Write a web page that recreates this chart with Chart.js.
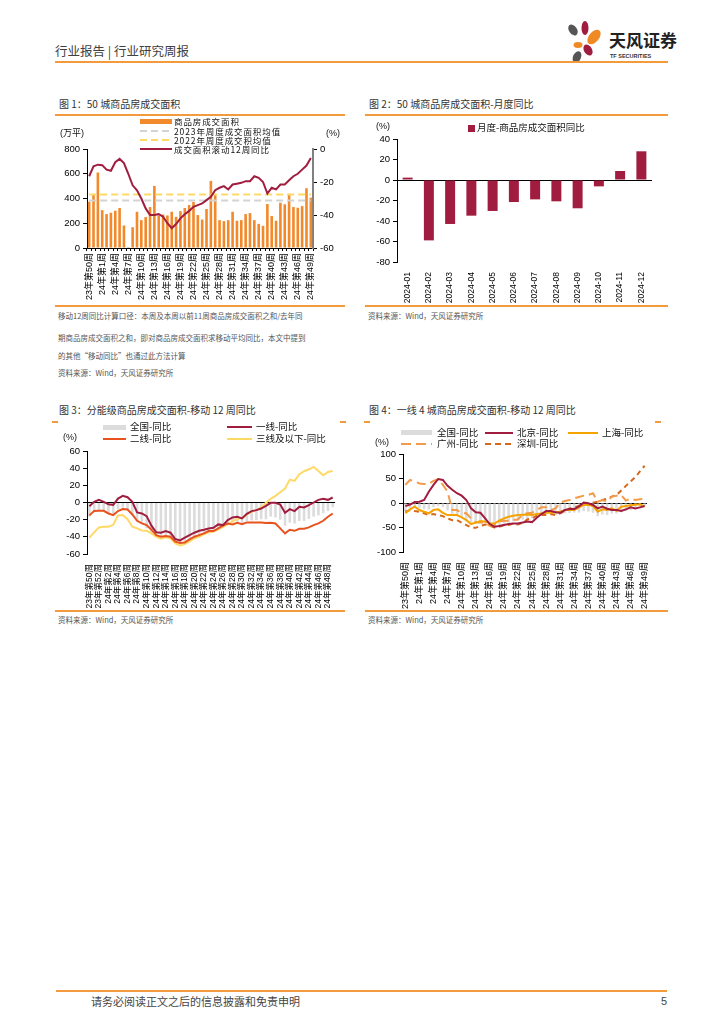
<!DOCTYPE html>
<html>
<head>
<meta charset="utf-8">
<script src="https://cdn.jsdelivr.net/npm/chart.js@4.4.1/dist/chart.umd.min.js"></script>
<style>
body { margin: 0; background: #fff; font-family: 'Noto Sans CJK SC', sans-serif; }
#page { position: relative; width: 724px; height: 1024px; overflow: hidden; background: #fff; }
.t { position: absolute; white-space: nowrap; line-height: 1; }
.hr { position: absolute; height: 1.5px; background: #F29A3C; }
.box { position: absolute; }
.title { font-size: 10px; color: #333; }
.note { font-size: 7.5px; color: #555; }
.lg { font-size: 9.5px; color: #111; }
.lg1 { font-size: 8.5px; color: #111; letter-spacing: 0.9px; }
.unit { font-size: 9px; color: #111; font-family: 'Liberation Sans', 'Noto Sans CJK SC', sans-serif; }
.sym { position: absolute; }
</style>
</head>
<body>
<div id="page">

<!-- header -->
<div class="t" style="left:55px;top:45px;font-size:12.5px;color:#404040;">行业报告 | 行业研究周报</div>
<svg style="position:absolute;left:560px;top:18px;" width="50" height="48">
  <ellipse cx="13" cy="12" rx="4" ry="6" transform="rotate(-35 13 12)" fill="#555"/>
  <ellipse cx="25" cy="10" rx="3.5" ry="7" fill="#A11D3F"/>
  <ellipse cx="34" cy="19" rx="5" ry="8.5" transform="rotate(40 34 19)" fill="#F08A24"/>
  <ellipse cx="18" cy="27" rx="4.5" ry="3" fill="#F08A24"/>
  <ellipse cx="28" cy="32" rx="4" ry="6" transform="rotate(-30 28 32)" fill="#A11D3F"/>
  <ellipse cx="17" cy="39" rx="4" ry="6" transform="rotate(25 17 39)" fill="#555"/>
</svg>
<div class="t" style="left:609px;top:31px;font-size:17px;font-weight:bold;color:#222;">天风证券</div>
<div class="t" style="left:610px;top:54px;font-size:5.5px;font-weight:bold;color:#333;font-family:'Liberation Sans',sans-serif;">TF SECURITIES</div>
<div class="hr" style="left:55px;top:61px;width:613px;"></div>

<!-- chart 1 -->
<div class="t title" style="left:59px;top:99px;">图 1：50 城商品房成交面积</div>
<div class="hr" style="left:55px;top:114px;width:290px;"></div>
<div class="box" style="left:55px;top:115px;width:290px;height:190px;"><canvas id="c1"></canvas></div>
<div class="sym" style="left:140px;top:119px;width:32px;height:5px;background:#F28A2B;"></div>
<div class="t lg1" style="left:174px;top:117px;">商品房成交面积</div>
<div class="sym" style="left:140px;top:129.5px;width:32px;height:2px;background:repeating-linear-gradient(90deg,#D3D3D3 0 7px,transparent 7px 11px);"></div>
<div class="t lg1" style="left:174px;top:126.5px;">2023年周度成交面积均值</div>
<div class="sym" style="left:140px;top:138.5px;width:32px;height:2px;background:repeating-linear-gradient(90deg,#FFD966 0 7px,transparent 7px 11px);"></div>
<div class="t lg1" style="left:174px;top:135.5px;">2022年周度成交积均值</div>
<div class="sym" style="left:140px;top:148px;width:32px;height:2px;background:#A11D3F;"></div>
<div class="t lg1" style="left:174px;top:145px;">成交面积滚动12周同比</div>
<div class="t unit" style="left:60px;top:129px;">(万平)</div>
<div class="t unit" style="left:326px;top:129px;">(%)</div>
<div class="hr" style="left:55px;top:305px;width:290px;"></div>
<div class="t note" style="left:58px;top:312px;">移动12周同比计算口径：本周及本周以前11周商品房成交面积之和/去年同</div>
<div class="t note" style="left:58px;top:334px;">期商品房成交面积之和，即对商品房成交面积求移动平均同比，本文中提到</div>
<div class="t note" style="left:58px;top:352px;">的其他“移动同比”也通过此方法计算</div>
<div class="t note" style="left:58px;top:369px;">资料来源：Wind，天风证券研究所</div>

<!-- chart 2 -->
<div class="t title" style="left:369px;top:99px;">图 2：50 城商品房成交面积-月度同比</div>
<div class="hr" style="left:365px;top:114px;width:303px;"></div>
<div class="box" style="left:365px;top:115px;width:303px;height:190px;"><canvas id="c2"></canvas></div>
<div class="t unit" style="left:376px;top:122px;">(%)</div>
<div class="sym" style="left:468px;top:125px;width:6.5px;height:6.5px;background:#A11D3F;"></div>
<div class="t lg" style="left:477px;top:123px;">月度-商品房成交面积同比</div>
<div class="hr" style="left:365px;top:305px;width:303px;"></div>
<div class="t note" style="left:368px;top:312px;">资料来源：Wind，天风证券研究所</div>

<!-- chart 3 -->
<div class="t title" style="left:59px;top:405px;">图 3：分能级商品房成交面积-移动 12 周同比</div>
<div class="hr" style="left:52px;top:421px;width:6px;"></div>
<div class="hr" style="left:340px;top:421px;width:6px;"></div>
<div class="box" style="left:55px;top:422px;width:290px;height:188px;"><canvas id="c3"></canvas></div>
<div class="t unit" style="left:63px;top:433px;">(%)</div>
<div class="sym" style="left:103px;top:424.5px;width:23px;height:5px;background:#DCDCDC;"></div>
<div class="t lg" style="left:130px;top:422px;">全国-同比</div>
<div class="sym" style="left:103px;top:438px;width:23px;height:2px;background:#E8521E;"></div>
<div class="t lg" style="left:130px;top:434px;">二线-同比</div>
<div class="sym" style="left:227px;top:426px;width:25px;height:2px;background:#A11D3F;"></div>
<div class="t lg" style="left:256px;top:422px;">一线-同比</div>
<div class="sym" style="left:227px;top:438px;width:25px;height:2px;background:#FFD966;"></div>
<div class="t lg" style="left:256px;top:434px;">三线及以下-同比</div>
<div class="hr" style="left:55px;top:610px;width:290px;"></div>
<div class="t note" style="left:58px;top:616px;">资料来源：Wind，天风证券研究所</div>

<!-- chart 4 -->
<div class="t title" style="left:369px;top:405px;">图 4：一线 4 城商品房成交面积-移动 12 周同比</div>
<div class="hr" style="left:364px;top:421px;width:6px;"></div>
<div class="hr" style="left:655px;top:421px;width:6px;"></div>
<div class="box" style="left:365px;top:422px;width:303px;height:188px;"><canvas id="c4"></canvas></div>
<div class="t unit" style="left:375px;top:438px;">(%)</div>
<div class="sym" style="left:401px;top:430px;width:31px;height:5px;background:#DCDCDC;"></div>
<div class="t lg" style="left:437px;top:428px;">全国-同比</div>
<div class="sym" style="left:485px;top:432px;width:28px;height:2px;background:#A11D3F;"></div>
<div class="t lg" style="left:517px;top:428px;">北京-同比</div>
<div class="sym" style="left:568px;top:432px;width:30px;height:2px;background:#F5A300;"></div>
<div class="t lg" style="left:602px;top:428px;">上海-同比</div>
<div class="sym" style="left:401px;top:443px;width:31px;height:2px;background:repeating-linear-gradient(90deg,#F39B48 0 10px,transparent 10px 15px);"></div>
<div class="t lg" style="left:437px;top:439px;">广州-同比</div>
<div class="sym" style="left:485px;top:443px;width:28px;height:2px;background:repeating-linear-gradient(90deg,#D4691C 0 6px,transparent 6px 10px);"></div>
<div class="t lg" style="left:517px;top:439px;">深圳-同比</div>
<div class="hr" style="left:365px;top:610px;width:303px;"></div>
<div class="t note" style="left:368px;top:616px;">资料来源：Wind，天风证券研究所</div>

<!-- footer -->
<div class="hr" style="left:56px;top:990px;width:611px;"></div>
<div class="t" style="left:91px;top:996px;font-size:11px;color:#444;">请务必阅读正文之后的信息披露和免责申明</div>
<div class="t" style="left:661px;top:996px;font-size:11px;color:#444;font-family:'Liberation Sans',sans-serif;">5</div>
</div>

<script>
var weeks = ['23年第50周','23年第51周','23年第52周',
  '24年第1周','24年第2周','24年第3周','24年第4周','24年第5周','24年第6周','24年第7周','24年第8周','24年第9周','24年第10周',
  '24年第11周','24年第12周','24年第13周','24年第14周','24年第15周','24年第16周','24年第17周','24年第18周','24年第19周','24年第20周',
  '24年第21周','24年第22周','24年第23周','24年第24周','24年第25周','24年第26周','24年第27周','24年第28周','24年第29周','24年第30周',
  '24年第31周','24年第32周','24年第33周','24年第34周','24年第35周','24年第36周','24年第37周','24年第38周','24年第39周','24年第40周',
  '24年第41周','24年第42周','24年第43周','24年第44周','24年第45周','24年第46周','24年第47周','24年第48周','24年第49周'];

// 50城周度成交面积（万平）
var area = [374, 428, 610, 306, 274, 285, 301, 323, 182, 8, 168, 293, 225, 250, 331, 502, 260, 271,
  263, 293, 252, 298, 323, 347, 372, 266, 230, 315, 542, 428, 225, 217, 225, 293, 220, 225,
  274, 282, 225, 195, 179, 355, 258, 220, 366, 353, 437, 331, 325, 339, 483, 407];
var avg2023 = 383;
var avg2022 = 433;

// 全国 移动12周同比（%）
var nationalYoY = [-16.5, -10.5, -9.5, -9.8, -12.5, -13.2, -8, -6, -8.5, -15, -22, -25, -30, -36, -40, -40,
  -39.5, -41, -45, -48, -45.5, -42, -39.5, -37.5, -35, -34, -33, -31, -29, -25, -23.5, -22.5, -24.5,
  -21.5, -21, -20.5, -19.5, -19.5, -16.5, -17.5, -20, -27, -23.5, -24.5, -21.5, -21.5, -19, -16.5,
  -15, -12.5, -10, -5.5];

var months = ['2024-01','2024-02','2024-03','2024-04','2024-05','2024-06','2024-07','2024-08','2024-09','2024-10','2024-11','2024-12'];
var monthlyYoY = [2.3, -58.9, -42.9, -34.8, -30.2, -21.5, -18.9, -20.8, -27.6, -6.2, 8.8, 28];

var tier1YoY = [-4.3, 0.8, 3, 0.8, -2, -2.7, 4.6, 7.7, 6.2, 0.8, -11.6, -12.8, -15.9, -27, -34.8, -35.2,
  -33.3, -35.2, -42.6, -44.1, -41, -38, -35.2, -33, -31.7, -30.2, -29.4, -25.5, -26.3, -20.5, -17.4,
  -16.6, -18.6, -13.2, -10, -8.9, -7, -3.9, -0.4, -0.4, -2.3, -12, -7.7, -10, -5, -5.8, -3.1, 0, 3.1,
  4.3, 3.1, 5.8];
var tier2YoY = [-15, -10, -9.7, -9.7, -12.8, -14.7, -10, -7.7, -8.1, -14, -21.3, -24.4, -26.3, -31.7, -38,
  -39.9, -39, -39.9, -45.7, -47.2, -46.5, -43, -39.9, -38, -36, -33.3, -33.3, -30.2, -27, -24.4, -25.5,
  -23.6, -25.2, -23.2, -23.2, -23.2, -23.2, -24, -23.6, -24.4, -30.2, -36, -31.7, -33, -30.6, -30.6,
  -29, -26.3, -24.4, -21.3, -16.6, -12.8];
var tier3YoY = [-41, -34.8, -29, -28.3, -28.3, -26, -15, -14.7, -19.4, -28.3, -30.2, -32.5, -33, -36, -39.9,
  -42.2, -40.6, -41.8, -47.6, -50, -48.4, -45.3, -41.8, -39.9, -37.2, -34.8, -34, -31.4, -28.3, -25.5,
  -22, -19, -17.8, -13.9, -10.8, -8.9, -5.8, -0.4, 4.3, 7.7, 12, 16.3, 26.7, 25.2, 32.9, 36.4, 38.7,
  41.4, 36.8, 31.7, 35.6, 36.8];

var beijingYoY = [-6, -3.4, 2, 2.7, 6.2, 23, 37, 49, 47, 35, 27, 20, 15, 6, -11, -19, -20, -31.5, -43, -48.6,
  -47, -45, -43, -42, -42, -40, -38, -39, -30, -22.6, -16.4, -16.4, -19, -20, -14.4, -12.3, -12.3, -6.8,
  0.7, -0.7, -4, -11, -7.5, -11.6, -14.4, -14.4, -16.4, -13, -8.9, -11, -8.9, -6.2];
var shanghaiYoY = [-21, -13, -7.5, -14.4, -17.8, -21, -14.4, -13, -20, -24.7, -24.7, -24.7, -29.5, -35, -43,
  -40, -37, -38, -42, -42, -36, -31.5, -28, -26, -24.7, -24, -23.3, -24.7, -22.6, -21.2, -20, -20, -19,
  -17.8, -14.4, -14.4, -14.4, -8.9, -4, -3.4, -6.2, -17.8, -13, -14.4, -11, -15.8, -7.5, -6.2, -4.8,
  -3.4, -2.7, -7.5];
var guangzhouYoY = [37, 47, 44, 40, 39, 39, 45, 48.6, 37, 23, -14.4, -14.4, -21, -21, -31.5, -40, -40, -40,
  -47, -45, -38, -36, -36, -35, -33.6, -23.3, -21, -20, -14.4, -8.9, -8.9, -14.4, -11, 0.7, 4, 6.2, 9.6,
  12.3, 15, 16.4, 20, 2.7, 6.2, 2.7, 13, 15, 16.4, 4.8, 8.9, 6.2, 7.5, 8.9];
var shenzhenYoY = [-17.8, -14.4, -16.4, -17.8, -21, -24.7, -22.6, -24.7, -26.7, -31.5, -35, -35, -40, -45,
  -50, -50.7, -47, -43.8, -46.6, -50, -48.6, -45, -45, -41.8, -43.8, -40.4, -33.6, -31.5, -26, -24.7,
  -24.7, -22.6, -24.7, -21, -16.4, -11, -8.9, -6.2, -2.7, -2.7, 0.7, 2.7, 6.2, 8.9, 13, 16.4, 25.3, 35,
  44, 52.7, 64.4, 76];

var RED = '#A11D3F';
var ORANGE = '#F28A2B';
var GRAY = '#DCDCDC';

Chart.defaults.font.family = "'Liberation Sans', 'Noto Sans CJK SC', sans-serif";
Chart.defaults.font.size = 9.5;
Chart.defaults.color = '#000';
Chart.defaults.animation = false;
Chart.defaults.plugins.legend.display = false;
Chart.defaults.plugins.tooltip.enabled = false;
Chart.defaults.maintainAspectRatio = false;

function lineSet(label, data, color, extra) {
  var ds = { type: 'line', label: label, data: data, borderColor: color, backgroundColor: color,
    borderWidth: 2, pointRadius: 0, tension: 0, order: 1 };
  for (var k in extra) ds[k] = extra[k];
  return ds;
}

function zeroLine(ctx) {
  return ctx.tick && ctx.tick.value === 0 ? '#000' : 'rgba(0,0,0,0)';
}

function xRotated(height, size, every) {
  return {
    grid: { display: false },
    border: { display: false },
    ticks: {
      autoSkip: false, minRotation: 90, maxRotation: 90, padding: 2, font: { size: size },
      callback: function(v, i) { return i % every === 0 ? this.getLabelForValue(v) : ''; }
    },
    afterFit: function(s) { s.height = height; }
  };
}

function yAxis(min, max, step, width, pos) {
  return {
    position: pos || 'left', min: min, max: max,
    ticks: { stepSize: step, padding: 3 },
    grid: { drawOnChartArea: false, color: '#000', tickLength: 4 },
    border: { color: '#000' },
    afterFit: function(s) { s.width = width; }
  };
}

// 图1
var x1 = xRotated(57, 9, 3);
x1.grid = { display: true, drawOnChartArea: false, color: '#000', tickLength: 3, offset: true };
x1.border = { display: true, color: '#000' };
var y1r = yAxis(-60, 0, 20, 32, 'right');
y1r.border = { color: '#808080', width: 2 };
new Chart(document.getElementById('c1'), {
  data: {
    labels: weeks,
    datasets: [
      lineSet('成交面积滚动12周同比', nationalYoY, RED, { yAxisID: 'y1', order: 0 }),
      lineSet('2022年周度成交积均值', weeks.map(function() { return avg2022; }), '#FFD966', { borderDash: [7, 4], order: 1 }),
      lineSet('2023年周度成交面积均值', weeks.map(function() { return avg2023; }), '#D3D3D3', { borderDash: [7, 4], order: 2 }),
      { type: 'bar', label: '商品房成交面积', data: area, backgroundColor: ORANGE,
        barPercentage: 0.6, categoryPercentage: 1, order: 3 }
    ]
  },
  options: {
    layout: { padding: { top: 34, left: 0, right: 0, bottom: 0 } },
    scales: { x: x1, y: yAxis(0, 800, 200, 32), y1: y1r }
  }
});

// 图2
var y2 = yAxis(-80, 40, 20, 32);
y2.grid = { drawOnChartArea: true, color: zeroLine, tickColor: '#000', tickLength: 4 };
new Chart(document.getElementById('c2'), {
  type: 'bar',
  data: {
    labels: months,
    datasets: [{ label: '月度-商品房成交面积同比', data: monthlyYoY, backgroundColor: RED,
      barPercentage: 0.47, categoryPercentage: 1 }]
  },
  options: {
    layout: { padding: { top: 24, right: 16, left: 0, bottom: 0 } },
    scales: { x: xRotated(43, 8.5, 1), y: y2 }
  }
});

// 图3
var y3 = yAxis(-60, 60, 20, 32);
y3.grid = { drawOnChartArea: true, color: zeroLine, tickColor: '#000', tickLength: 4 };
new Chart(document.getElementById('c3'), {
  data: {
    labels: weeks,
    datasets: [
      lineSet('一线-同比', tier1YoY, RED, { order: 1 }),
      lineSet('二线-同比', tier2YoY, '#E8521E', { order: 2 }),
      lineSet('三线及以下-同比', tier3YoY, '#FFD966', { order: 3 }),
      { type: 'bar', label: '全国-同比', data: nationalYoY, backgroundColor: GRAY,
        barPercentage: 0.55, categoryPercentage: 1, order: 5 }
    ]
  },
  options: {
    layout: { padding: { top: 29, right: 8, left: 0, bottom: 0 } },
    scales: { x: xRotated(56, 8.5, 2), y: y3 }
  }
});

// 图4
var y4 = yAxis(-100, 100, 50, 38);
y4.grid = { drawOnChartArea: true, color: zeroLine, tickColor: '#000', tickLength: 4 };
new Chart(document.getElementById('c4'), {
  data: {
    labels: weeks,
    datasets: [
      lineSet('北京-同比', beijingYoY, RED, { order: 1 }),
      lineSet('上海-同比', shanghaiYoY, '#F5A300', { order: 2 }),
      lineSet('广州-同比', guangzhouYoY, '#F39B48', { borderDash: [9, 5], order: 3 }),
      lineSet('深圳-同比', shenzhenYoY, '#D4691C', { borderDash: [5, 4], order: 4 }),
      { type: 'bar', label: '全国-同比', data: nationalYoY, backgroundColor: GRAY,
        barPercentage: 0.55, categoryPercentage: 1, order: 5 }
    ]
  },
  options: {
    layout: { padding: { top: 32, right: 21, left: 0, bottom: 0 } },
    scales: { x: xRotated(58, 9, 3), y: y4 }
  }
});
</script>
</body>
</html>
